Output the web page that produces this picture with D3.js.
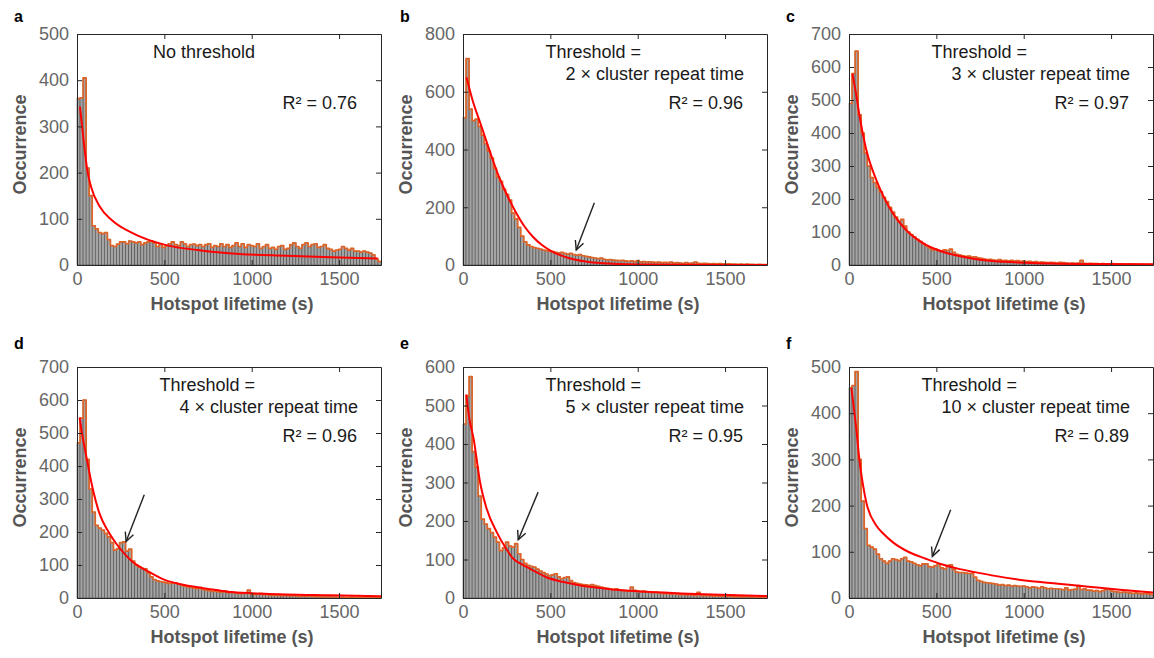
<!DOCTYPE html>
<html>
<head>
<meta charset="utf-8">
<script src="https://cdn.jsdelivr.net/npm/d3@7"></script>
<style>
body { margin: 0; background: #fff; }
svg { display: block; font-family: "Liberation Sans", Arial, sans-serif; }
</style>
</head>
<body>
<div class="chart"></div>
<script>
// histogram bins: 100 bins of 17.4 s each, from 0 to 1740 s
const binWidth = 17.4;
const xMax = 1740;
const xTicks = [0, 500, 1000, 1500];

const panelLetters = ["a", "b", "c", "d", "e", "f"];
const yMaxes = [500, 800, 700, 700, 600, 500];
const yTickSteps = [100, 200, 100, 100, 100, 100];
const headLabels = ["No threshold", "Threshold =", "Threshold =", "Threshold =", "Threshold =", "Threshold ="];
const subLabels = [null, "2 × cluster repeat time", "3 × cluster repeat time",
    "4 × cluster repeat time", "5 × cluster repeat time", "10 × cluster repeat time"];
const r2Labels = ["R² = 0.76", "R² = 0.96", "R² = 0.97", "R² = 0.96", "R² = 0.95", "R² = 0.89"];

const countsA = [360, 362, 405, 210, 150, 85, 78, 70, 68, 70,
    55, 42, 40, 45, 50, 50, 46, 52, 50, 48,
    50, 44, 48, 50, 52, 48, 40, 46, 38, 42,
    46, 50, 44, 42, 50, 46, 40, 44, 45, 42,
    44, 40, 44, 46, 38, 42, 40, 46, 40, 44,
    38, 42, 48, 40, 46, 38, 44, 42, 40, 46,
    36, 40, 44, 36, 38, 34, 40, 42, 34, 36,
    44, 48, 40, 36, 44, 48, 40, 44, 46, 38,
    40, 44, 36, 34, 30, 32, 34, 40, 36, 32,
    36, 30, 30, 28, 30, 28, 26, 22, 14, 8];

const countsB = [510, 715, 540, 500, 505, 480, 450, 420, 395, 370,
    335, 305, 290, 262, 245, 225, 180, 160, 130, 100,
    80, 70, 64, 60, 58, 55, 52, 50, 48, 46,
    44, 42, 44, 40, 38, 40, 36, 34, 36, 32,
    30, 28, 26, 24, 22, 24, 20, 18, 19, 17,
    16, 15, 16, 14, 13, 14, 12, 15, 11, 12,
    10, 11, 10, 9, 10, 8, 9, 8, 10, 7,
    8, 7, 6, 8, 6, 7, 10, 6, 5, 6,
    5, 4, 5, 4, 5, 4, 3, 4, 3, 3,
    2, 3, 2, 3, 2, 2, 1, 2, 1, 1];

const countsC = [490, 580, 648, 455, 400, 340, 300, 265, 250, 235,
    222, 205, 192, 175, 160, 145, 132, 138, 118, 100,
    92, 85, 78, 72, 65, 58, 52, 46, 48, 44,
    42, 46, 44, 48, 38, 32, 30, 28, 26, 27,
    24, 25, 22, 20, 18, 16, 17, 15, 14, 16,
    13, 14, 12, 14, 12, 13, 11, 12, 10, 11,
    9, 10, 8, 9, 8, 7, 8, 7, 6, 8,
    7, 6, 5, 6, 5, 6, 14, 5, 4, 5,
    4, 4, 3, 4, 3, 3, 4, 3, 2, 3,
    2, 2, 3, 2, 2, 1, 2, 1, 1, 1];

const countsD = [470, 545, 600, 420, 330, 260, 220, 212, 206, 196,
    185, 168, 145, 150, 168, 170, 142, 148, 112, 100,
    94, 90, 88, 76, 64, 56, 52, 50, 48, 46,
    44, 45, 46, 42, 40, 36, 34, 32, 30, 28,
    32, 26, 24, 22, 20, 21, 19, 18, 22, 17,
    16, 17, 15, 14, 13, 15, 24, 12, 11, 12,
    14, 10, 11, 9, 8, 9, 8, 7, 8, 7,
    6, 7, 6, 5, 6, 5, 7, 4, 5, 4,
    3, 4, 3, 4, 3, 3, 2, 3, 2, 2,
    3, 2, 2, 1, 2, 1, 2, 1, 1, 1];

const countsE = [452, 525, 575, 380, 340, 265, 205, 192, 180, 170,
    158, 145, 123, 130, 145, 135, 132, 141, 115, 100,
    90, 85, 82, 80, 75, 70, 66, 62, 58, 60,
    63, 55, 50, 53, 55, 45, 40, 38, 36, 35,
    34, 33, 35, 32, 30, 28, 26, 25, 23, 22,
    24, 21, 20, 19, 18, 28, 20, 18, 17, 18,
    16, 15, 14, 15, 13, 12, 11, 12, 10, 11,
    10, 9, 10, 8, 9, 8, 7, 15, 7, 6,
    7, 6, 5, 6, 5, 5, 4, 5, 4, 3,
    4, 3, 3, 4, 3, 3, 2, 3, 2, 2];

const countsF = [455, 460, 490, 300, 210, 150, 114, 110, 106, 95,
    85, 80, 75, 80, 85, 83, 81, 85, 88, 80,
    78, 75, 72, 70, 74, 74, 68, 67, 70, 74,
    65, 63, 70, 72, 62, 56, 55, 55, 54, 53,
    53, 45, 38, 36, 34, 33, 32, 31, 30, 28,
    29, 27, 28, 26, 27, 26, 25, 26, 24, 22,
    24, 23, 21, 24, 22, 20, 21, 20, 20, 19,
    18, 22, 17, 18, 19, 27, 18, 20, 17, 17,
    15, 16, 14, 16, 18, 20, 15, 14, 13, 12,
    13, 12, 11, 10, 11, 10, 9, 10, 9, 8];

// fitted curves, [lifetime (s), occurrence]
const fitA = [[17, 343], [25, 315], [40, 262], [59, 205], [80, 170], [131, 126], [200, 97],
    [318, 69], [510, 43], [700, 32], [887, 25], [1200, 20], [1455, 17], [1720, 14]];
const fitB = [[20, 650], [60, 560], [100, 490], [150, 400], [200, 315], [250, 245], [300, 185],
    [350, 135], [400, 98], [450, 70], [500, 50], [600, 25], [700, 12], [800, 6], [1000, 2],
    [1300, 0.5], [1740, 0]];
const fitC = [[20, 580], [40, 520], [61, 450], [99, 349], [156, 258], [200, 205], [251, 157],
    [300, 122], [346, 96], [400, 74], [441, 61], [500, 47], [630, 27], [720, 18], [820, 12],
    [1010, 7], [1390, 3], [1740, 2]];
const fitD = [[15, 547], [30, 495], [53, 430], [91, 329], [128, 257], [175, 205], [223, 166],
    [270, 135], [317, 110], [365, 93], [412, 79], [506, 54], [600, 41], [696, 32], [800, 24],
    [885, 18], [1075, 13], [1454, 8], [1740, 5]];
const fitE = [[19, 529], [35, 470], [61, 413], [98, 300], [136, 231], [193, 171], [240, 133],
    [288, 102], [335, 88], [383, 76], [477, 54], [570, 42], [666, 33], [760, 27], [856, 22],
    [1045, 16], [1250, 12], [1424, 9], [1740, 5]];
const fitF = [[14, 455], [28, 410], [42, 365], [61, 294], [80, 245], [99, 207], [156, 157],
    [200, 138], [250, 121], [345, 99], [440, 85], [530, 73], [629, 63], [720, 56], [818, 49],
    [1008, 38], [1197, 31], [1386, 24], [1550, 18], [1740, 12]];

// arrows: tail and tip in data units
const arrowB = [[752, 216], [648, 52]];
const arrowD = [[385, 313], [281, 171]];
const arrowE = [[430, 275], [316, 151]];
const arrowF = [[582, 191], [477, 90]];

const allCounts = [countsA, countsB, countsC, countsD, countsE, countsF];
const allFits = [fitA, fitB, fitC, fitD, fitE, fitF];
const allArrows = [null, arrowB, null, arrowD, arrowE, arrowF];

const panels = panelLetters.map((letter, k) => ({
    letter: letter,
    yMax: yMaxes[k],
    yStep: yTickSteps[k],
    head: headLabels[k],
    sub: subLabels[k],
    r2: r2Labels[k],
    counts: allCounts[k],
    fit: allFits[k],
    arrow: allArrows[k]
}));

// layout
const W = 1154, H = 658;
const colX = [77, 463, 849];
const rowY = [34, 367];
const pw = 304, ph = 231;

var svg = d3.select(".chart")
    .append("svg")
    .attr("width", W)
    .attr("height", H);

function styleAxis(g) {
    g.attr("font-family", null).attr("font-size", 18);
    g.select(".domain").attr("stroke", "#262626");
    g.selectAll(".tick line").attr("stroke", "#262626");
    g.selectAll(".tick text").attr("fill", "#666");
}

panels.forEach((p, k) => {
    var left = colX[k % 3], top = rowY[Math.floor(k / 3)];
    var g = svg.append("g").attr("transform", `translate(${left},${top})`);

    var xScale = d3.scaleLinear().domain([0, xMax]).range([0, pw]);
    var yScale = d3.scaleLinear().domain([0, p.yMax]).range([ph, 0]);
    var yTicks = d3.range(0, p.yMax + 1, p.yStep);

    // bars
    g.append("g")
        .selectAll("rect")
        .data(p.counts)
        .join("rect")
        .attr("x", (d, i) => xScale(i * binWidth))
        .attr("y", d => yScale(d))
        .attr("width", xScale(binWidth) - xScale(0))
        .attr("height", d => ph - yScale(d))
        .attr("fill", "#a4a4a4")
        .attr("stroke", "#3c3c3c")
        .attr("stroke-width", 0.5);

    // orange stairs outline
    var steps = p.counts.map((d, i) => [i * binWidth, d]);
    steps.push([p.counts.length * binWidth, p.counts[p.counts.length - 1]]);
    var stair = d3.line()
        .curve(d3.curveStepAfter)
        .x(d => xScale(d[0]))
        .y(d => yScale(d[1]));
    g.append("path")
        .datum(steps)
        .attr("d", stair)
        .attr("fill", "none")
        .attr("stroke", "#dc6428")
        .attr("stroke-width", 1.7)
        .attr("stroke-linejoin", "round");

    // red fit
    var fitLine = d3.line()
        .curve(d3.curveMonotoneX)
        .x(d => xScale(d[0]))
        .y(d => yScale(d[1]));
    g.append("path")
        .datum(p.fit)
        .attr("d", fitLine)
        .attr("fill", "none")
        .attr("stroke", "#ff0000")
        .attr("stroke-width", 2);

    // axes, ticks pointing inwards on all four sides
    g.append("g")
        .attr("transform", `translate(0,${ph})`)
        .call(d3.axisBottom(xScale).tickValues(xTicks).tickFormat(d3.format("d"))
            .tickSizeInner(-5).tickSizeOuter(0).tickPadding(7))
        .call(styleAxis);
    g.append("g")
        .call(d3.axisTop(xScale).tickValues(xTicks).tickSizeInner(-5).tickSizeOuter(0).tickFormat(""))
        .call(styleAxis);
    g.append("g")
        .call(d3.axisLeft(yScale).tickValues(yTicks).tickFormat(d3.format("d"))
            .tickSizeInner(-5).tickSizeOuter(0).tickPadding(8))
        .call(styleAxis);
    g.append("g")
        .attr("transform", `translate(${pw},0)`)
        .call(d3.axisRight(yScale).tickValues(yTicks).tickSizeInner(-5).tickSizeOuter(0).tickFormat(""))
        .call(styleAxis);

    // axis titles
    g.append("text")
        .attr("x", pw / 2 + 3)
        .attr("y", ph + 45)
        .attr("text-anchor", "middle")
        .attr("font-size", 18)
        .attr("font-weight", "bold")
        .attr("fill", "#555")
        .text("Hotspot lifetime (s)");
    g.append("text")
        .attr("transform", `translate(-51,${ph / 2 - 5}) rotate(-90)`)
        .attr("text-anchor", "middle")
        .attr("font-size", 18)
        .attr("font-weight", "bold")
        .attr("fill", "#555")
        .text("Occurrence");

    // panel letter
    g.append("text")
        .attr("x", -63)
        .attr("y", k < 3 ? -12 : -18)
        .attr("font-size", 16)
        .attr("font-weight", "bold")
        .attr("fill", "#000")
        .text(p.letter);

    // annotations
    if (p.sub) {
        var sub = g.append("text")
            .attr("x", 281)
            .attr("y", 46)
            .attr("text-anchor", "end")
            .attr("font-size", 18)
            .attr("fill", "#1a1a1a")
            .text(p.sub);
        var subLen = sub.node().getComputedTextLength();
        g.append("text")
            .attr("x", 281 - subLen - 20)
            .attr("y", 24)
            .attr("font-size", 18)
            .attr("fill", "#1a1a1a")
            .text(p.head);
    } else {
        g.append("text")
            .attr("x", 76)
            .attr("y", 24)
            .attr("font-size", 18)
            .attr("fill", "#1a1a1a")
            .text(p.head);
    }
    g.append("text")
        .attr("x", 280)
        .attr("y", 75)
        .attr("text-anchor", "end")
        .attr("font-size", 18)
        .attr("fill", "#1a1a1a")
        .text(p.r2);

    // arrow
    if (p.arrow) {
        var x0 = xScale(p.arrow[0][0]), y0 = yScale(p.arrow[0][1]);
        var x1 = xScale(p.arrow[1][0]), y1 = yScale(p.arrow[1][1]);
        var ang = Math.atan2(y1 - y0, x1 - x0);
        var hl = 10, spread = 0.45;
        var head = [
            [x1 - hl * Math.cos(ang - spread), y1 - hl * Math.sin(ang - spread)],
            [x1, y1],
            [x1 - hl * Math.cos(ang + spread), y1 - hl * Math.sin(ang + spread)]
        ];
        g.append("line")
            .attr("x1", x0).attr("y1", y0)
            .attr("x2", x1).attr("y2", y1)
            .attr("stroke", "#222")
            .attr("stroke-width", 1.4);
        g.append("path")
            .attr("d", d3.line()(head))
            .attr("fill", "none")
            .attr("stroke", "#222")
            .attr("stroke-width", 1.4)
            .attr("stroke-linejoin", "miter");
    }
});
</script>
</body>
</html>
